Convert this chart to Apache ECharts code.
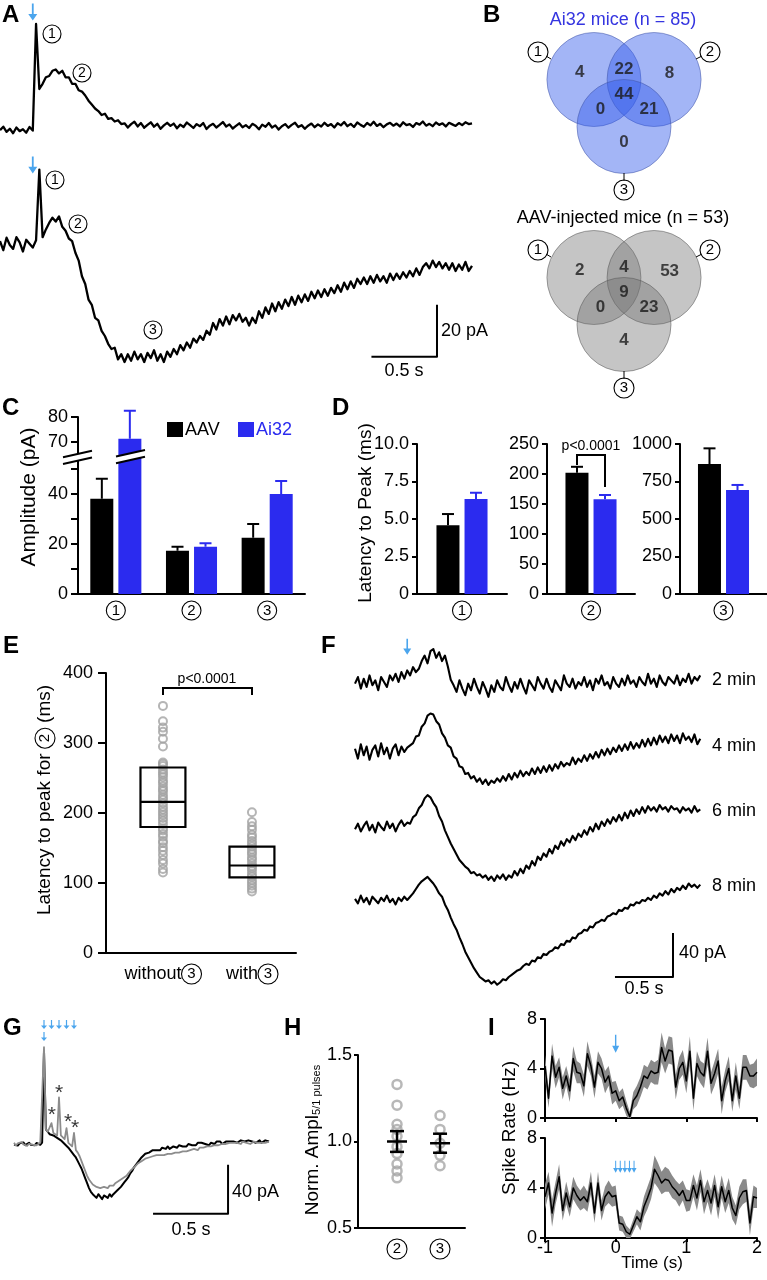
<!DOCTYPE html>
<html><head><meta charset="utf-8">
<script src="https://cdn.jsdelivr.net/npm/echarts@6/dist/echarts.min.js"></script>
<style>html,body{margin:0;padding:0;background:#fff}#c{width:767px;height:1280px}</style>
</head><body><div id="c"></div>
<script>
// ---------------- DATA ----------------
// Panel A: photocurrent traces (pA), sampled every 25 ms
const aDt = 0.025;
const aTop = [-0.8,0.5,-1.5,-0.3,-2.0,0.2,-1.2,-0.5,-1.8,0.4,-1.0,
 40,
 15,17,19.5,20,22,22.5,21,22,19.5,19.5,17,17,14.5,14,12.5,10.5,9,7.5,6.5,5,5.5,3.5,3.8,2.5,3,1.5,
 1.8,0.2,1.5,2.4,0.6,1.9,0.1,1.2,2.2,0.5,
 1.6,-0.3,1.0,2.0,0.8,1.7,-0.1,1.3,0.4,2.1,
 1.1,0.0,1.5,0.7,1.9,-0.4,0.9,1.6,0.2,1.2,
 2.3,0.6,1.4,-0.2,0.8,1.8,0.3,1.1,0.0,1.6,
 0.9,-0.5,1.3,0.5,1.9,0.2,1.0,-0.6,0.7,1.5,
 0.1,1.2,2.0,0.4,1.1,-0.3,0.9,1.7,0.3,1.4,
 0.6,2.0,0.8,1.5,0.2,1.8,1.0,2.3,0.7,1.6,
 0.4,2.1,1.2,0.5,1.9,1.0,2.4,0.8,1.6,0.3,
 1.4,2.0,0.9,1.7,0.6,2.2,1.1,1.5,0.4,1.9,
 1.3,2.5,0.9,1.6,0.7,2.1,1.2,1.8,0.6,2.0,
 1.4,0.8,1.9,1.1,2.2,1.5,1.8];
const aBot = [1.5,-2.0,2.8,0.0,-1.5,3.0,1.0,-2.5,2.0,0.5,-1.0,1.8,
 29,
 3,6,8.5,10.5,9,11,
 7,5.5,2.5,1.5,-3,-6,-12,-15,-21,-23,
 -28,-29,-33,-35,-38,-40,-39.5,-44,-42,-45,
 -42,-44.5,-41,-44,-42,-45,-41.5,-43.5,-40.5,-44.5,
 -42,-45,-41,-43,-40,-42,-38.5,-40.5,-37.5,-39.5,
 -36,-37.5,-35,-36.5,-33,-34.5,-30,-32.5,-28.5,-31,
 -27.5,-30.5,-27,-29,-26.5,-29.5,-28,-31,-28,-30,
 -25.5,-28,-24,-26.5,-22.5,-25.5,-22,-24.5,-21,-23.5,
 -20,-23,-19.5,-22,-19,-21.5,-18,-20.5,-17.5,-20,
 -17,-19.5,-16.5,-18.5,-15.5,-18,-14.5,-17,-14,-16.5,
 -13,-15,-12.5,-15,-12,-14.5,-11.5,-14,-12,-14.5,
 -11,-13.5,-11,-13,-10.5,-12.5,-10,-12,-9,-11.5,
 -8.5,-7,-9,-6,-8.5,-6.5,-9,-7,-9.5,-7,
 -10,-7.5,-9.5,-6.5,-10,-8];
const aStim = [0.25];
const aScaleT = 0.5, aScaleV = 20;

// Panel B: Venn counts (regions: 1 only, 1&2, 2 only, 1&2&3, 1&3, 2&3, 3 only)
const vennAi32 = [4, 22, 8, 44, 0, 21, 0];
const vennAAV  = [2, 4, 53, 9, 0, 23, 4];

// Panel C: amplitude (pA)
const cCats = ['1', '2', '3'];
const cAAV = [38.1, 17.3, 22.5], cAAVerr = [8.0, 1.6, 5.5];
const cAi32 = [71.3, 18.9, 40.0], cAi32err = [11.2, 1.4, 5.2];

// Panel D: latency to peak (ms)
const dAAV = [4.58, 202, 866], dAAVerr = [0.75, 10, 105];
const dAi32 = [6.33, 158, 693], dAi32err = [0.42, 7, 34];
const dMax = [10, 250, 1000], dStep = [2.5, 50, 250];

// Panel E: latency to peak for component 2 (ms)
const eWithout = [353,331,322,316,306,295,272,270,267,262,258,255,251,246,243,238,234,231,226,222,219,214,209,205,201,197,193,189,184,178,175,170,166,160,157,151,146,140,133,128,120,115];
const eWith = [201,187,181,176,169,165,160,156,152,148,144,141,136,133,128,124,121,117,112,109,104,100,96,92,88];
const eBox = [[180, 216, 265], [108, 125, 152]];

// Panel F: traces after drug (pA), 25 ms samples
const fDt = 0.025;
const fNames = ['2 min', '4 min', '6 min', '8 min'];
const f2 = [-1.5,4.5,-6,3,-4.5,6,-3,1.5,-7.5,4.5,0,-4.5,6,
 1.5,7.5,0,9,3,10.5, 6,13.5,9,
 12,19,24,17,28,30,22,27,19,24,14,2,
 -3,-9,1.5,-6,-12,-1.5,-7.5,3,-4.5,-10.5,
 0,-6,-13.5,-3,-9,1.5,-4.5,-7.5,4.5,-3,
 -9,0,-6,3,-4.5,-10.5,1.5,-3,-7.5,4.5,
 -1.5,-6,3,-4.5,-9,1.5,-3,-7.5,6,-1.5,
 -4.5,3,-6,0,-3,4.5,-4.5,1.5,-7.5,3,
 -1.5,6,-3,0,-6,4.5,-1.5,-4.5,3,-3,
 6,-1.5,1.5,-4.5,4.5,0,-3,7.5,-1.5,3,
 -4.5,6,0,-3,4.5,1.5,-1.5,6,-3,3,
 0,7.5,-1.5,4.5,1.5,6];
const f4 = [3,-6,7,-3,5,-7,2,6,-4,8,-2,4,-6,3,7,-3,5,0,4,
 6,8,14,15,23,26,33,35,34,28,25,17,
 13,6,4,-4,-6,-13,-14,-20,-19,-24,-22,-27,-24,-29,-25,-30,-26,-28,-24,
 -27,-22,-26,-20,-25,-19,-23,-17,-22,-18,
 -21,-15,-20,-14,-19,-13,-18,-12,-17,-11,
 -15,-9,-13,-10,-12,-5,-11,-6,-9,-3,
 -8,-2,-6,0,-5,2,-3,3,-2,4,
 0,6,1,7,2,9,3,8,4,11,
 5,12,6,13,7,15,9,14,8,16,
 10,15,8,17,11,14,9,16,7,12];
const f6 = [-2,3,-4,1,5,-3,2,-5,4,0,-3,5,-1,3,-4,2,6,1,4,
 3,9,11,17,20,26,29,27,22,
 18,10,5,-3,-9,-15,-20,-25,-30,-33,-36,-38,-42,-41,-44,-43,-46,-44,-48,-45,
 -49,-44,-47,-43,-48,-44,-46,-40,-44,-38,
 -42,-35,-38,-31,-35,-27,-30,-24,-27,-20,
 -24,-17,-20,-13,-17,-11,-14,-8,-12,-6,
 -9,-3,-7,0,-4,3,-2,5,1,7,
 3,9,5,11,6,13,8,15,10,16,
 12,18,13,19,15,18,14,20,16,18,
 14,19,16,17,13,18,15,17,13,19,14,16];
const f8 = [1,-3,4,-2,2,-4,3,0,-3,2,-1,4,-2,1,-4,2,-1,3,0,
 3,6,10,14,17,19,21,18,15,11,6,
 3,-4,-9,-16,-22,-27,-34,-40,-47,-52,-57,-62,-66,-70,-72,-74,-73,-76,-74,-77,
 -75,-72,-73,-70,-68,-66,-64,-63,-60,-58,
 -59,-55,-56,-52,-53,-49,-50,-47,-46,-43,
 -44,-40,-41,-37,-38,-34,-35,-31,-30,-27,
 -28,-24,-25,-21,-20,-18,-19,-15,-14,-12,
 -13,-9,-10,-7,-8,-4,-5,-2,-3,0,
 -1,2,0,4,2,6,4,8,5,10,
 7,11,9,13,10,15,12,14,11,14];
const fStim = [0.45];

// Panel G: 1 pulse (black) vs 5 pulses (gray), 12.5 ms samples
const gDt = 0.0125;
const gOne = [-0.5,1.0,-1.3,0.6,-0.2,1.3,-0.9,0.3,1.0,-0.7,0.5,-1.1,0.8,0.0,-0.6,1.2,
 76,
 12,10,8,7,7,6,5,4,3,2,0,-1,-3,-5,-7,-9,-11,-14,-17,
 -20,-24,-28,-32,-36,-39,-41,-42,-44,-41,-43,-45,-42,-43,-44,-41,-43,-41,-40,-38,
 -37,-35,-33,-31,-29,-27,-24,-22,-19,-17,-15,-13,-11,-10,-8,-9,-7,-7,-5,-6,
 -5,-4,-5,-3,-4,-4,-2,-4,-3,-2,-2,-3,-1,-2,-2,-1,-2,0,-1,-1,
 0,-1,1,0,1,0,0,1,-1,1,1,0,2,1,2,0,1,2,1,2,
 1,2,3,1,2,3,2,2,1,3,2,2,3,1,2,3,1,2,3,2,2];
const gFive = [1.0,-1.2,0.5,-0.8,1.5,-0.3,0.8,-1.5,0.2,1.2,-0.6,0.9,-1.0,0.4,1.1,-0.5,
 79,
 12,10,9,17,9,8,7,38,7,6,4,13,1,0,-2,9,-5,-7,
 -10,-14,-18,-22,-26,-29,-31,-33,-34,-35,-34,-36,-35,-35,-34,-36,-34,-33,-34,-32,
 -31,-30,-29,-28,-27,-26,-24,-22,-21,-19,-18,-16,-15,-14,-13,-12,-11,-11,-10,-10,
 -10,-9,-10,-9,-8,-9,-8,-8,-7,-8,-7,-7,-6,-7,-6,-6,-5,-6,-5,-5,
 -5,-4,-4,-5,-3,-4,-3,-3,-2,-3,-2,-2,-1,-2,-1,-1,0,-1,0,0,
 1,0,1,0,1,1,0,2,1,1,2,0,1,2,1,1,2,1,2,1,1,2];
const gPulses = [0.2, 0.25, 0.3, 0.35, 0.4];

// Panel H: normalized amplitude 5/1 pulses
const h2 = [1.33, 1.21, 1.10, 1.07, 1.03, 0.97, 0.93, 0.87, 0.83, 0.79];
const h3 = [1.15, 1.07, 0.99, 0.92, 0.86];
const hMean = [1.00, 0.99], hSem = [0.06, 0.055];

// Panel I: spike rate (Hz), 50 ms bins from -1 s
const iStart = -1, iBin = 0.05;
const iOne = [4.2,1.6,5.0,3.3,4.1,2.4,3.4,2.2,4.8,3.7,
 3.6,2.6,5.2,4.2,2.5,4.5,4.0,2.9,3.4,2.0,
 2.2,1.4,1.7,0.8,0.1,1.4,1.8,2.5,3.4,3.2,
 3.8,3.6,3.7,5.7,4.6,5.5,5.4,2.5,4.0,4.5,
 3.0,5.4,1.6,4.4,3.7,3.4,5.4,2.8,3.6,4.6,
 1.4,3.0,4.0,1.4,3.4,1.6,4.1,4.1,3.4,3.4,3.7];
const iOneSem = [0.9,0.8,1.0,0.9,0.8,0.9,0.8,0.9,1.0,0.9,
 0.8,0.9,1.0,0.8,0.9,0.9,0.8,0.9,0.8,0.9,
 0.8,0.7,0.7,0.6,0.4,0.7,0.8,0.8,0.9,0.9,
 0.9,0.9,1.0,1.2,1.0,1.1,1.1,1.0,0.9,1.0,
 1.0,1.2,1.0,1.0,0.9,1.0,1.1,0.9,1.0,1.0,
 1.1,0.9,1.0,0.9,1.1,0.9,1.0,1.0,0.9,1.0,1.1];
const iFive = [3.3,4.4,2.0,3.6,4.9,2.2,3.6,2.5,4.0,3.4,
 3.0,3.3,2.9,4.4,2.0,4.4,2.2,3.3,3.7,3.3,
 3.4,1.2,1.1,0.5,0.3,1.0,1.7,1.3,2.5,3.2,
 4.0,5.5,5.0,4.4,4.7,4.6,4.1,3.8,3.4,3.8,
 3.0,3.0,4.2,3.2,4.6,2.9,3.8,2.8,4.2,2.5,
 4.1,2.9,3.8,2.4,1.8,3.2,3.7,3.8,1.2,3.3,3.2];
const iFiveSem = [1.0,0.9,1.1,0.9,1.0,0.8,0.9,0.8,0.9,0.8,
 0.8,0.9,0.8,0.9,0.8,0.9,0.8,0.8,0.9,0.8,
 0.8,0.6,0.6,0.5,0.4,0.5,0.6,0.7,0.8,0.9,
 0.9,1.1,1.0,0.9,1.0,0.9,0.9,0.8,0.9,0.8,
 0.9,0.8,0.9,1.0,0.9,1.0,0.9,1.0,0.9,1.0,
 0.9,0.9,1.0,0.9,0.8,0.9,1.0,0.9,1.0,0.9,0.8];
const iPulsesOne = [0];
const iPulsesFive = [0, 0.065, 0.13, 0.195, 0.26];

// ---------------- LAYOUT / HELPERS ----------------
const FONT = '"Liberation Sans", Arial, Helvetica, sans-serif';
const BLUE = '#2b2bef', AZ = '#1e8fe8';
const grid = [], xAxis = [], yAxis = [], series = [], els = [];
function addGrid(box, xa, ya) { const i = grid.length; grid.push(box); xAxis.push(Object.assign({gridIndex: i}, xa)); yAxis.push(Object.assign({gridIndex: i}, ya)); return i; }
function hid(min, max) { return {type: 'value', min: min, max: max, show: false, splitLine: {show: false}}; }
function pairs(vals, dt, t0) { return vals.map(function (v, k) { return [(t0 || 0) + k * dt, v]; }); }
function lineS(gi, data, color, width, z) { return {type: 'line', xAxisIndex: gi, yAxisIndex: gi, data: data, symbol: 'none', showSymbol: false, lineStyle: {color: color, width: width, join: 'round'}, z: z || 2, silent: true, clip: false}; }
const ARROW = 'path://M4,0L6,0L6,11L10,11L5,18L0,11L4,11Z';
function arrowS(gi, pts, size) { return {type: 'scatter', xAxisIndex: gi, yAxisIndex: gi, data: pts, symbol: ARROW, symbolSize: size, itemStyle: {color: AZ}, clip: false, silent: true, z: 5}; }
function circ(d, fs) { return {fontSize: fs, fontFamily: FONT, color: '#000', width: d, height: d, lineHeight: d, align: 'center', verticalAlign: 'middle', borderColor: '#000', borderWidth: 1.1, borderRadius: d / 2}; }
function T(x, y, text, o) {
  o = o || {}; const al = o.align || 'left', va = o.va || 'middle';
  const st = {text: text, font: o.font || ('18px ' + FONT), fill: o.color || '#000', align: al, verticalAlign: va, textAlign: al, textVerticalAlign: va};
  if (o.rich) st.rich = o.rich;
  return {type: 'text', x: x, y: y, rotation: o.rot || 0, z: 100, silent: true, style: st};
}
function Cn(x, y, n, d, fs) { return T(x, y, '{c|' + n + '}', {align: 'center', rich: {c: circ(d || 18, fs || 14)}}); }
function Ln(x1, y1, x2, y2, w, color) { return {type: 'line', z: 100, silent: true, shape: {x1: x1, y1: y1, x2: x2, y2: y2}, style: {stroke: color || '#000', lineWidth: w || 2}}; }
function PL(pts, w) { return {type: 'polyline', z: 100, silent: true, shape: {points: pts}, style: {stroke: '#000', lineWidth: w || 2, fill: null}}; }
function axLine() { return {show: true, onZero: false, lineStyle: {color: '#000', width: 2}}; }
function valAx(min, max, interval, o) {
  o = o || {};
  return {type: 'value', min: min, max: max, interval: interval, splitLine: {show: false},
    axisLine: axLine(),
    axisTick: Object.assign({show: true, length: o.tick || 7, lineStyle: {color: '#000', width: 2}}, o.tickCustom ? {customValues: o.tickCustom} : {}),
    axisLabel: Object.assign({show: o.label !== false, color: '#000', fontSize: 18, fontFamily: FONT, margin: o.margin || 10,
      formatter: o.fmt || function (v) { return String(v); }}, o.labCustom ? {customValues: o.labCustom} : {})};
}
function catAx(data, o) {
  o = o || {};
  return {type: 'category', data: data, axisLine: axLine(), axisTick: {show: false},
    axisLabel: {show: true, interval: 0, margin: o.margin || 7, formatter: function (v) { return '{c|' + v + '}'; }, rich: {c: circ(19, 15)}}};
}
function errS(gi, data, offset, color) {
  return {type: 'custom', xAxisIndex: gi, yAxisIndex: gi, data: data, silent: true, z: 3, clip: false,
    renderItem: function (p, api) {
      const x = api.value(0), m = api.value(1), e = api.value(2);
      const a = api.coord([x, m]), b = api.coord([x, m + e]); const cx = a[0] + offset;
      return {type: 'group', children: [
        {type: 'line', shape: {x1: cx, y1: a[1], x2: cx, y2: b[1]}, style: {stroke: color, lineWidth: 2}},
        {type: 'line', shape: {x1: cx - 6, y1: b[1], x2: cx + 6, y2: b[1]}, style: {stroke: color, lineWidth: 2}}]};
    }};
}
const LET = 'bold 24px ' + FONT;

// ---------------- PANEL A ----------------
els.push(T(2, 3, 'A', {font: LET, va: 'top'}));
const gA1 = addGrid({left: 0, top: 3.2, width: 472, height: 137.8}, hid(0, 3.6), hid(-5, 48));
series.push(lineS(gA1, pairs(aTop, aDt), '#000', 2.3));
series.push(arrowS(gA1, aStim.map(function (t) { return [t, 44.6]; }), [9, 17]));
const gA2 = addGrid({left: 0, top: 156.6, width: 472, height: 218.4}, hid(0, 3.6), hid(-50, 34));
series.push(lineS(gA2, pairs(aBot, aDt), '#000', 2.3));
series.push(arrowS(gA2, aStim.map(function (t) { return [t, 30.8]; }), [9, 17]));
series.push(lineS(gA2, [[3.333 - aScaleT, -43], [3.333, -43], [3.333, -43 + aScaleV]], '#000', 2));
els.push(T(441, 331, aScaleV + ' pA'), T(404, 371, aScaleT + ' s', {align: 'center'}));
els.push(Cn(52, 34, '1'), Cn(82, 73, '2'), Cn(55, 180, '1'), Cn(78, 224, '2'), Cn(153, 330, '3'));

// ---------------- PANEL B ----------------
els.push(T(483, 3, 'B', {font: LET, va: 'top'}));
const vennSets = [[-0.64, 0.5, 1], [0.64, 0.5, 1], [0, -0.5, 1]];
const vennPos = [[-0.94, 0.66], [0, 0.72], [0.97, 0.64], [0, 0.18], [-0.5, -0.13], [0.53, -0.13], [0, -0.83]];
function venn(top, counts, fill, edge) {
  const gi = addGrid({left: 530, top: top, width: 188, height: 188}, hid(-2, 2), hid(-2, 2));
  series.push({type: 'custom', xAxisIndex: gi, yAxisIndex: gi, data: vennSets, silent: true, z: 2,
    renderItem: function (p, api) {
      const c = api.coord([api.value(0), api.value(1)]); const r = api.size([api.value(2), 0])[0];
      return {type: 'circle', shape: {cx: c[0], cy: c[1], r: r}, style: {fill: fill, stroke: edge, lineWidth: 1}};
    }});
  series.push({type: 'scatter', xAxisIndex: gi, yAxisIndex: gi, silent: true, z: 3, symbolSize: 0,
    data: counts.map(function (v, k) { return [vennPos[k][0], vennPos[k][1], v]; }),
    label: {show: true, position: 'inside', formatter: function (p) { return String(p.value[2]); }, fontSize: 17, fontWeight: 'bold', fontFamily: FONT, color: '#1a1a1a'}});
  const oy = top - 9;
  els.push(Cn(538, 52 + oy, '1', 20, 15), Cn(710, 52 + oy, '2', 20, 15), Cn(624, 190 + oy, '3', 20, 15));
  els.push(Ln(546, 56 + oy, 551, 59 + oy, 1), Ln(702, 56 + oy, 696, 59 + oy, 1), Ln(624, 181 + oy, 624, 173 + oy, 1));
}
venn(9, vennAi32, 'rgba(50,90,235,0.45)', 'rgba(70,90,170,0.55)');
venn(207, vennAAV, 'rgba(110,110,110,0.4)', 'rgba(90,90,90,0.55)');
els.push(T(623, 20, 'Ai32 mice (n = 85)', {align: 'center', color: '#3535e0'}));
els.push(T(623, 218, 'AAV-injected mice (n = 53)', {align: 'center'}));

// ---------------- PANEL C ----------------
els.push(T(2, 396, 'C', {font: LET, va: 'top'}));
const gCl = addGrid({left: 78, top: 456.5, width: 227, height: 137.5}, catAx(cCats),
  valAx(0, 55, 10, {fmt: function (v) { return v % 20 === 0 ? String(v) : ''; }}));
const gCh = addGrid({left: 78, top: 417, width: 227, height: 40}, {type: 'category', data: cCats, show: false},
  valAx(64, 80, 8, {tickCustom: [70, 80], labCustom: [70, 80], fmt: function (v) { return (v === 70 || v === 80) ? String(v) : ''; }}));
[gCl, gCh].forEach(function (gi) {
  series.push({type: 'bar', name: 'AAV', xAxisIndex: gi, yAxisIndex: gi, data: cAAV, barWidth: 23, barGap: '22%', itemStyle: {color: '#000'}, silent: true, z: 2});
  series.push({type: 'bar', name: 'Ai32', xAxisIndex: gi, yAxisIndex: gi, data: cAi32, barWidth: 23, barGap: '22%', itemStyle: {color: BLUE}, silent: true, z: 2});
});
function errData(m, e, keep) { const out = []; m.forEach(function (v, k) { if (keep(v)) out.push([k, v, e[k]]); }); return out; }
series.push(errS(gCl, errData(cAAV, cAAVerr, function (v) { return v < 55; }), -14, '#000'));
series.push(errS(gCl, errData(cAi32, cAi32err, function (v) { return v < 55; }), 14, BLUE));
series.push(errS(gCh, errData(cAi32, cAi32err, function (v) { return v > 64; }), 14, BLUE));
// axis / bar break marks
els.push({type: 'polygon', z: 99, silent: true, shape: {points: [[62, 457.4], [93, 450.5], [93, 457.3], [62, 464.2]]}, style: {fill: '#fff'}});
els.push({type: 'polygon', z: 99, silent: true, shape: {points: [[115, 456.7], [146, 449.8], [146, 456.6], [115, 463.5]]}, style: {fill: '#fff'}});
els.push(Ln(63, 457.2, 92, 450.7, 2), Ln(63, 464, 92, 457.5, 2), Ln(116, 456.5, 145, 450, 2), Ln(116, 463.3, 145, 456.8, 2));
els.push({type: 'rect', z: 100, silent: true, shape: {x: 167, y: 422, width: 16, height: 15}, style: {fill: '#000'}});
els.push({type: 'rect', z: 100, silent: true, shape: {x: 238, y: 422, width: 16, height: 15}, style: {fill: BLUE}});
els.push(T(185, 430, 'AAV'), T(256, 430, 'Ai32', {color: BLUE}));
els.push(T(29, 497, 'Amplitude (pA)', {rot: Math.PI / 2, align: 'center', font: '21px ' + FONT}));

// ---------------- PANEL D ----------------
els.push(T(332, 396, 'D', {font: LET, va: 'top'}));
const dBoxes = [{left: 417, width: 90}, {left: 547, width: 88}, {left: 680, width: 93}];
dBoxes.forEach(function (b, k) {
  const gi = addGrid({left: b.left, top: 444, width: b.width, height: 150}, catAx([String(k + 1)]),
    valAx(0, dMax[k], dStep[k], {tick: 5, margin: 8, fmt: k === 0 ? function (v) { return v === 0 ? '0' : v.toFixed(1); } : function (v) { return String(v); }}));
  series.push({type: 'bar', name: 'AAV', xAxisIndex: gi, yAxisIndex: gi, data: [dAAV[k]], barWidth: 23, barGap: '22%', itemStyle: {color: '#000'}, silent: true});
  series.push({type: 'bar', name: 'Ai32', xAxisIndex: gi, yAxisIndex: gi, data: [dAi32[k]], barWidth: 23, barGap: '22%', itemStyle: {color: BLUE}, silent: true});
  series.push(errS(gi, [[0, dAAV[k], dAAVerr[k]]], -14, '#000'));
  series.push(errS(gi, [[0, dAi32[k], dAi32err[k]]], 14, BLUE));
});
els.push(PL([[577, 465], [577, 455], [605, 455], [605, 487]], 2));
els.push(T(591, 446, 'p<0.0001', {align: 'center', font: '14px ' + FONT}));
els.push(T(366, 513, 'Latency to Peak (ms)', {rot: Math.PI / 2, align: 'center', font: '19px ' + FONT}));

// ---------------- PANEL E ----------------
els.push(T(3, 634, 'E', {font: LET, va: 'top'}));
const gE = addGrid({left: 106, top: 673, width: 190, height: 280},
  {type: 'value', min: 0.36, max: 2.495, axisLine: axLine(), axisTick: {show: false}, axisLabel: {show: false}, splitLine: {show: false}},
  valAx(0, 400, 100, {tick: 8, margin: 13}));
series.push({type: 'scatter', xAxisIndex: gE, yAxisIndex: gE, silent: true, z: 2, symbol: 'circle', symbolSize: 8,
  itemStyle: {color: 'rgba(0,0,0,0)', borderColor: '#a3a3a3', borderWidth: 2},
  data: eWithout.map(function (v) { return [1, v]; }).concat(eWith.map(function (v) { return [2, v]; }))});
series.push({type: 'custom', xAxisIndex: gE, yAxisIndex: gE, silent: true, z: 4,
  data: eBox.map(function (b, k) { return [k + 1, b[0], b[1], b[2]]; }),
  renderItem: function (p, api) {
    const x = api.value(0); const lo = api.coord([x, api.value(1)]), md = api.coord([x, api.value(2)]), hi = api.coord([x, api.value(3)]);
    const w = api.size([0.505, 0])[0];
    return {type: 'group', children: [
      {type: 'rect', shape: {x: lo[0] - w / 2, y: hi[1], width: w, height: lo[1] - hi[1]}, style: {fill: null, stroke: '#000', lineWidth: 2.2}},
      {type: 'line', shape: {x1: lo[0] - w / 2, y1: md[1], x2: lo[0] + w / 2, y2: md[1]}, style: {stroke: '#000', lineWidth: 2.2}}]};
  }});
els.push(PL([[163, 695], [163, 688], [252, 688], [252, 695]], 2));
els.push(T(207, 679, 'p<0.0001', {align: 'center', font: '14px ' + FONT}));
els.push(T(163, 974, 'without{c|3}', {align: 'center', rich: {c: circ(20, 15)}}));
els.push(T(252, 974, 'with{c|3}', {align: 'center', rich: {c: circ(20, 15)}}));
els.push(T(45, 800, 'Latency to peak for {c|2} (ms)', {rot: Math.PI / 2, align: 'center', font: '19px ' + FONT, rich: {c: circ(20, 15)}}));

// ---------------- PANEL F ----------------
els.push(T(321, 634, 'F', {font: LET, va: 'top'}));
const fBase = [682, 752, 827, 900], fLabelY = [680, 746, 811, 886];
[f2, f4, f6, f8].forEach(function (arr, k) {
  const gi = addGrid({left: 355, top: fBase[k] - 49.5, width: 347, height: 137.5}, hid(0, 2.99), hid(-80, 45));
  series.push(lineS(gi, pairs(arr, fDt), '#000', 2.1));
  if (k === 0) series.push(arrowS(gi, fStim.map(function (t) { return [t, 32]; }), [8, 16]));
  if (k === 3) series.push(lineS(gi, [[2.74 - 0.5, -70], [2.74, -70], [2.74, -30]], '#000', 2));
  els.push(T(712, fLabelY[k], fNames[k]));
});
els.push(T(679, 953, '40 pA'), T(644, 989, '0.5 s', {align: 'center'}));

// ---------------- PANEL G ----------------
els.push(T(3, 1016, 'G', {font: LET, va: 'top'}));
const gG = addGrid({left: 14, top: 1015.4, width: 255, height: 202.1}, hid(0, 1.7), hid(-60, 105));
series.push(lineS(gG, pairs(gOne, gDt), '#000', 2.0, 2));
series.push(lineS(gG, pairs(gFive, gDt), '#8c8c8c', 1.8, 3));
series.push(arrowS(gG, gPulses.map(function (t) { return [t, 97.5]; }), [6, 9]));
series.push(arrowS(gG, [[gPulses[0], 87.8]], [6, 9]));
const gStarPos = [[0.3, 41.6], [0.253, 23.7], [0.36, 18], [0.407, 13]];
series.push({type: 'scatter', xAxisIndex: gG, yAxisIndex: gG, data: gStarPos, symbolSize: 0, silent: true, z: 6,
  label: {show: true, position: 'inside', formatter: '*', fontSize: 21, fontFamily: FONT, color: '#000'}});
series.push(lineS(gG, [[1.427 - 0.5, -57], [1.427, -57], [1.427, -17]], '#000', 2));
els.push(T(232, 1192, '40 pA'), T(191, 1230, '0.5 s', {align: 'center'}));

// ---------------- PANEL H ----------------
els.push(T(284, 1016, 'H', {font: LET, va: 'top'}));
const gH = addGrid({left: 358, top: 1055, width: 107, height: 173},
  {type: 'value', min: 0.093, max: 2.58, axisLine: axLine(), axisTick: {show: false}, axisLabel: {show: false}, splitLine: {show: false}},
  valAx(0.5, 1.5, 0.5, {tick: 4, margin: 6, fmt: function (v) { return v.toFixed(1); }}));
series.push({type: 'scatter', xAxisIndex: gH, yAxisIndex: gH, silent: true, z: 2, symbol: 'circle', symbolSize: 9,
  itemStyle: {color: 'rgba(0,0,0,0)', borderColor: '#a6a6a6', borderWidth: 2.5},
  data: h2.map(function (v) { return [1, v]; }).concat(h3.map(function (v) { return [2, v]; }))});
series.push({type: 'custom', xAxisIndex: gH, yAxisIndex: gH, silent: true, z: 4,
  data: hMean.map(function (m, k) { return [k + 1, m, hSem[k]]; }),
  renderItem: function (p, api) {
    const x = api.value(0), m = api.value(1), s = api.value(2);
    const c = api.coord([x, m]), hi = api.coord([x, m + s]), lo = api.coord([x, m - s]);
    const st = {stroke: '#000', lineWidth: 2.5};
    return {type: 'group', children: [
      {type: 'line', shape: {x1: c[0] - 10, y1: c[1], x2: c[0] + 10, y2: c[1]}, style: st},
      {type: 'line', shape: {x1: c[0], y1: lo[1], x2: c[0], y2: hi[1]}, style: st},
      {type: 'line', shape: {x1: c[0] - 7, y1: hi[1], x2: c[0] + 7, y2: hi[1]}, style: st},
      {type: 'line', shape: {x1: c[0] - 7, y1: lo[1], x2: c[0] + 7, y2: lo[1]}, style: st}]};
  }});
els.push(Cn(397, 1249, '2', 20, 15), Cn(440, 1249, '3', 20, 15));
els.push(T(313, 1140, 'Norm. Ampl{s|5/1 pulses}', {rot: Math.PI / 2, align: 'center', font: '19px ' + FONT,
  rich: {s: {fontSize: 11, fontFamily: FONT, color: '#000', verticalAlign: 'bottom', lineHeight: 11}}}));

// ---------------- PANEL I ----------------
els.push(T(488, 1016, 'I', {font: LET, va: 'top'}));
const iT = iOne.map(function (v, k) { return iStart + k * iBin; });
function iXAx(showLabel) {
  return {type: 'value', min: -1, max: 2, interval: 1, splitLine: {show: false}, axisLine: axLine(),
    axisTick: {show: true, length: 4, lineStyle: {color: '#000', width: 2}},
    axisLabel: {show: showLabel, color: '#000', fontSize: 18, fontFamily: FONT, margin: 1}};
}
function bandS(gi, mean, sem) {
  return {type: 'custom', xAxisIndex: gi, yAxisIndex: gi, data: [[0, 4]], silent: true, z: 1, clip: true,
    renderItem: function (p, api) {
      const up = [], lo = [];
      for (let k = 0; k < mean.length; k++) { up.push(api.coord([iT[k], mean[k] + sem[k]])); lo.push(api.coord([iT[k], mean[k] - sem[k]])); }
      return {type: 'polygon', shape: {points: up.concat(lo.reverse())}, style: {fill: '#8a8a8a'}};
    }};
}
const gI1 = addGrid({left: 545, top: 1019, width: 212, height: 99}, iXAx(false), valAx(0, 8, 4, {tick: 5, margin: 8}));
const gI2 = addGrid({left: 545, top: 1138, width: 212, height: 100}, iXAx(true), valAx(0, 8, 4, {tick: 5, margin: 8}));
series.push(bandS(gI1, iOne, iOneSem), lineS(gI1, iOne.map(function (v, k) { return [iT[k], v]; }), '#000', 1.5, 3));
series.push(bandS(gI2, iFive, iFiveSem), lineS(gI2, iFive.map(function (v, k) { return [iT[k], v]; }), '#000', 1.5, 3));
series.push(arrowS(gI1, iPulsesOne.map(function (t) { return [t, 6.0]; }), [7, 18]));
series.push(arrowS(gI2, iPulsesFive.map(function (t) { return [t, 5.7]; }), [5, 12]));
els.push(T(510, 1128, 'Spike Rate (Hz)', {rot: Math.PI / 2, align: 'center', font: '19px ' + FONT}));
els.push(T(652, 1263, 'Time (s)', {align: 'center', font: '17px ' + FONT}));

// ---------------- RENDER ----------------
const chart = echarts.init(document.getElementById('c'), null, {renderer: 'canvas'});
chart.setOption({
  animation: false,
  backgroundColor: '#fff',
  textStyle: {fontFamily: FONT},
  grid: grid, xAxis: xAxis, yAxis: yAxis, series: series,
  graphic: {elements: els}
});
</script></body></html>
